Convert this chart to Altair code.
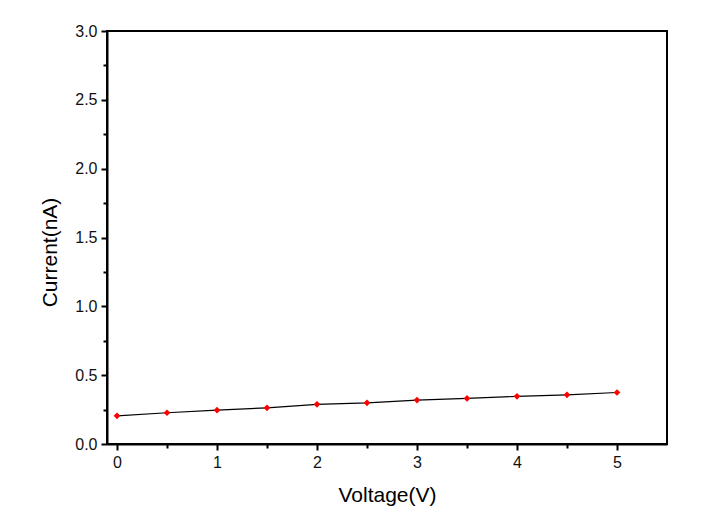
import altair as alt
import pandas as pd

voltage = [0.0, 0.5, 1.0, 1.5, 2.0, 2.5, 3.0, 3.5, 4.0, 4.5, 5.0]
current = [0.205, 0.227, 0.246, 0.263, 0.288, 0.299, 0.319, 0.331, 0.346, 0.357, 0.374]

x_major = [0, 1, 2, 3, 4, 5]
x_minor = [0.5, 1.5, 2.5, 3.5, 4.5]
y_major = [0.0, 0.5, 1.0, 1.5, 2.0, 2.5, 3.0]
y_minor = [0.25, 0.75, 1.25, 1.75, 2.25, 2.75]

df = pd.DataFrame({"Voltage": voltage, "Current": current})

FONT = "Liberation Sans"
xscale = alt.Scale(domain=[-0.1, 5.5], nice=False, zero=False)
yscale = alt.Scale(domain=[0, 3.0], nice=False, zero=False)

xaxis = alt.Axis(values=x_major, format="d", title="Voltage(V)", orient="bottom",
                 grid=False, domainColor="black", domainWidth=2, tickColor="black",
                 tickWidth=2, tickSize=6, labelFont=FONT, labelFontSize=16,
                 labelColor="#111", titleFont=FONT, titleFontSize=21,
                 titleFontWeight="normal", titleColor="black", titlePadding=14,
                 labelPadding=4)
yaxis = alt.Axis(values=y_major, format=".1f", title="Current(nA)", orient="left",
                 grid=False, domainColor="black", domainWidth=2, tickColor="black",
                 tickWidth=2, tickSize=6, labelFont=FONT, labelFontSize=16,
                 labelColor="#111", titleFont=FONT, titleFontSize=21,
                 titleFontWeight="normal", titleColor="black", titlePadding=14,
                 titleY=221, labelPadding=4)

xminor = alt.Axis(values=x_minor, labels=False, title=None, orient="bottom", grid=False,
                  domain=False, tickColor="black", tickWidth=2, tickSize=4)
yminor = alt.Axis(values=y_minor, labels=False, title=None, orient="left", grid=False,
                  domain=False, tickColor="black", tickWidth=2, tickSize=4)

line = alt.Chart(df).mark_line(color="black", strokeWidth=1.2).encode(
    x=alt.X("Voltage:Q", scale=xscale, axis=xaxis),
    y=alt.Y("Current:Q", scale=yscale, axis=yaxis),
)
pts = alt.Chart(df).mark_point(filled=True, shape="diamond", size=45, color="red", opacity=1).encode(
    x=alt.X("Voltage:Q", scale=xscale, axis=xminor),
    y=alt.Y("Current:Q", scale=yscale, axis=yminor),
)

chart = alt.layer(line, pts).resolve_axis(x="independent", y="independent").properties(
    width=560, height=413,
    background="white",
    autosize=alt.AutoSizeParams(type="none"),
    padding={"left": 107, "top": 31, "right": 61, "bottom": 79},
).configure_view(stroke="black", strokeWidth=2)

chart.save("out.html", embed_options={"renderer": "svg", "actions": False})
